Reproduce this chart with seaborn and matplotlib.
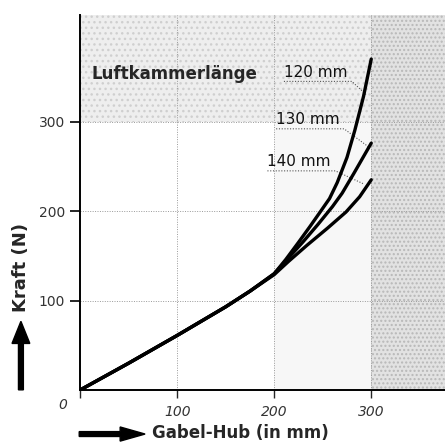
import numpy as np
import pandas as pd
import seaborn as sns
import matplotlib.pyplot as plt
from matplotlib.patches import FancyArrow

# Kraft-Weg-Kennlinien
hub_120 = [0, 25, 50, 75, 100, 125, 150, 175, 200, 212, 225, 237, 248, 257, 265, 275, 283, 292, 300]
kraft_120 = [0, 15, 30, 45.5, 61, 77, 93, 110.5, 130, 146, 165, 183, 200, 214, 232, 260, 290, 328, 370]
hub_130 = [0, 25, 50, 75, 100, 125, 150, 175, 200, 215, 230, 245, 260, 270, 282, 300]
kraft_130 = [0, 15, 30, 45.5, 61, 77, 93, 110.5, 130, 148, 166, 185, 205, 220, 242, 276]
hub_140 = [0, 25, 50, 75, 100, 125, 150, 175, 200, 215, 234, 255, 274, 288, 300]
kraft_140 = [0, 15, 30, 45.5, 61, 77, 93, 110.5, 129, 144, 162, 181, 199, 216, 235]
laengen = ["120 mm", "130 mm", "140 mm"]
x_ticks = [100, 200, 300]
y_ticks = [100, 200, 300]

df = pd.concat([
    pd.DataFrame({"Hub": h, "Kraft": k, "Länge": name})
    for h, k, name in zip([hub_120, hub_130, hub_140],
                          [kraft_120, kraft_130, kraft_140], laengen)
])

sns.set_style("white")
plt.rcParams['font.family'] = ['DejaVu Sans']

fig = plt.figure(figsize=(4.45, 4.42), dpi=100)
ax = fig.add_axes([0.18, 0.1176, 0.82, 0.848])
xmax, ymax = 376, 419

# gerasterte Hintergrundflächen
ax.axvspan(300, xmax, color='#e2e2e2', zorder=0, lw=0)
ax.fill_between([0, 300], 300, ymax, color='#eeeeee', zorder=0, lw=0)
ax.fill_between([200, 300], 0, 300, color='#f7f7f7', zorder=0, lw=0)
ax.fill_between([300, xmax], 0, ymax, facecolor='none', edgecolor='#b8b8b8',
                hatch='....', lw=0, zorder=0)
ax.fill_between([0, 300], 300, ymax, facecolor='none', edgecolor='#cfcfcf',
                hatch='...', lw=0, zorder=0)

for v in x_ticks:
    ax.axvline(v, color='#9a9a9a', ls=(0, (1, 1.5)), lw=0.7, zorder=1)
for v in y_ticks:
    ax.axhline(v, color='#9a9a9a', ls=(0, (1, 1.5)), lw=0.7, zorder=1)

sns.lineplot(data=df, x="Hub", y="Kraft", hue="Länge", palette=['black'] * 3,
             lw=2.4, legend=False, ax=ax, zorder=3, sort=False)

ax.set_xlim(0, xmax)
ax.set_ylim(0, ymax)
for s in ['top', 'right']:
    ax.spines[s].set_visible(False)
for s in ['left', 'bottom']:
    ax.spines[s].set_color('black')
    ax.spines[s].set_linewidth(1.4)

ax.set_xticks([0] + x_ticks)
ax.set_xticklabels([''] + [str(v) for v in x_ticks], style='italic',
                   fontsize=10, color='#333333')
ax.text(-18, -17, '0', style='italic', fontsize=10, color='#333333',
        ha='center', va='center', clip_on=False)
ax.set_yticks(y_ticks)
ax.set_yticklabels([str(v) for v in y_ticks], fontsize=10, color='#333333')
ax.tick_params(axis='y', direction='out', length=7, width=1.4, left=True, pad=4)
ax.tick_params(axis='x', direction='out', length=6, width=1.0, bottom=True, pad=5)
ax.set_xlabel('')
ax.set_ylabel('')

# Beschriftungen
ax.text(12, 353, 'Luftkammerlänge', fontsize=12, fontweight='bold', va='center')
lbl = [(210, 355, 300, 330), (202, 302, 302, 272), (193, 255, 298, 230)]
for name, (tx, ty, ex, ey) in zip(laengen, lbl):
    ax.text(tx, ty, name, fontsize=11, va='center', color='#111111')
    ax.plot([tx, tx + 70, ex - 5], [ty - 10, ty - 10, ey], color='#555555',
            ls=(0, (1, 1.5)), lw=0.8, zorder=2)

# Achsentitel mit Pfeilen
fig.text(0.047, 0.395, 'Kraft (N)', rotation=90, fontsize=13, fontweight='bold',
         ha='center', va='center')
fig.add_artist(FancyArrow(0.047, 0.118, 0, 0.155, width=0.011, head_width=0.04,
                          head_length=0.05, length_includes_head=True,
                          color='black', transform=fig.transFigure))
fig.add_artist(FancyArrow(0.178, 0.018, 0.148, 0, width=0.011, head_width=0.032,
                          head_length=0.056, length_includes_head=True,
                          color='black', transform=fig.transFigure))
fig.text(0.342, 0.02, 'Gabel-Hub (in mm)', fontsize=12, fontweight='bold',
         ha='left', va='center')

fig.savefig('out.png', dpi=100)
